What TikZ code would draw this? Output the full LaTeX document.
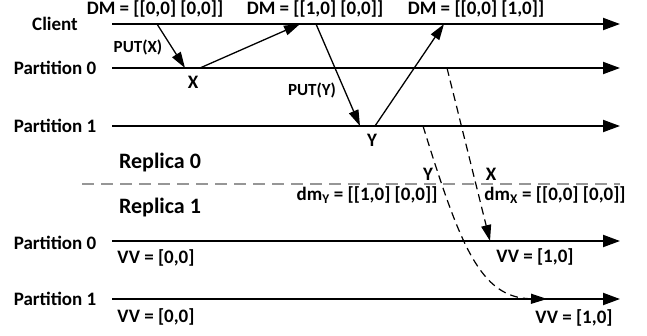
\documentclass[tikz,border=0pt]{standalone}
\usepackage{fontspec}
\setmainfont{Carlito}
\usetikzlibrary{arrows.meta}
\begin{document}
\begin{tikzpicture}[x=1pt,y=-1pt,
  lbl/.style={font=\fontsize{19}{22}\selectfont\bfseries, inner sep=0pt},
  small/.style={font=\fontsize{17}{20}\selectfont\bfseries, inner sep=0pt},
  big/.style={font=\fontsize{22}{26}\selectfont\bfseries, inner sep=0pt},
  tl/.style={line width=2pt, -{Triangle[length=17pt,width=12pt]}},
  msg/.style={line width=1.3pt, -{Triangle[length=16pt,width=10pt]}},
  dmsg/.style={line width=1.2pt, dash pattern=on 8pt off 5pt, -{Triangle[length=16pt,width=10pt]}},
  sep/.style={line width=2.2pt, draw={rgb,255:red,150;green,150;blue,150}, dash pattern=on 12pt off 7pt}
]
\useasboundingbox (0,0) rectangle (647,335);
% timelines
\coordinate (c0) at (112,24);  \coordinate (c1) at (620,24);
\coordinate (a0) at (112,68);  \coordinate (a1) at (620,68);
\coordinate (b0) at (112,126); \coordinate (b1) at (620,126);
\coordinate (d0) at (82,184);  \coordinate (d1) at (620,184);
\coordinate (e0) at (112,241); \coordinate (e1) at (620,241);
\coordinate (f0) at (112,299); \coordinate (f1) at (620,299);
\draw[tl] (c0) -- (c1);
\draw[tl] (a0) -- (a1);
\draw[tl] (b0) -- (b1);
\draw[tl] (e0) -- (e1);
\draw[tl] (f0) -- (f1);
\draw[sep] (d0) -- (d1);
% message points
\coordinate (m1s) at (157,24);  \coordinate (m1e) at (185,68);
\coordinate (m2s) at (200,68);  \coordinate (m2e) at (300,24);
\coordinate (m3s) at (316,24);  \coordinate (m3e) at (360,126);
\coordinate (m4s) at (375,126); \coordinate (m4e) at (444,24);
\coordinate (rxs) at (447,68);  \coordinate (rxe) at (490,241);
\coordinate (rys) at (423,126); \coordinate (rye) at (547,299);
\draw[msg] (m1s) -- (m1e);
\draw[msg] (m2s) -- (m2e);
\draw[msg] (m3s) -- (m3e);
\draw[msg] (m4s) -- (m4e);
\draw[dmsg] (rxs) -- (rxe);
\draw[dmsg] (rys) .. controls (460,245) and (480,298) .. (rye);
% labels
\node[lbl] (lc) at (55,24) {Client};
\node[lbl] (lp0) at (55,68) {Partition 0};
\node[lbl] (lp1) at (55,126) {Partition 1};
\node[big] (r0) at (160,163) {Replica 0};
\node[big] (r1) at (160,208) {Replica 1};
\node[lbl] (lq0) at (55,243) {Partition 0};
\node[lbl] (lq1) at (55,299) {Partition 1};
\node[lbl] (dm1) at (155,9) {DM = [[0,0] [0,0]]};
\node[lbl] (dm2) at (315,9) {DM = [[1,0] [0,0]]};
\node[lbl] (dm3) at (476,9) {DM = [[0,0] [1,0]]};
\node[small] (px) at (138,47) {PUT(X)};
\node[small] (py) at (312,90) {PUT(Y)};
\node[lbl] (lx) at (193,82) {X};
\node[lbl] (ly) at (372,140) {Y};
\node[lbl] (ly2) at (428,174) {Y};
\node[lbl] (lx2) at (491,174) {X};
\node[lbl] (dmy) at (367,195) {dm\textsubscript{Y} = [[1,0] [0,0]]};
\node[lbl] (dmx) at (555,195) {dm\textsubscript{X} = [[0,0] [0,0]]};
\node[lbl] (vv1) at (156,258) {VV = [0,0]};
\node[lbl] (vv2) at (156,317) {VV = [0,0]};
\node[lbl] (vv3) at (535,257) {VV = [1,0]};
\node[lbl] (vv4) at (574,318) {VV = [1,0]};
\end{tikzpicture}
\end{document}
